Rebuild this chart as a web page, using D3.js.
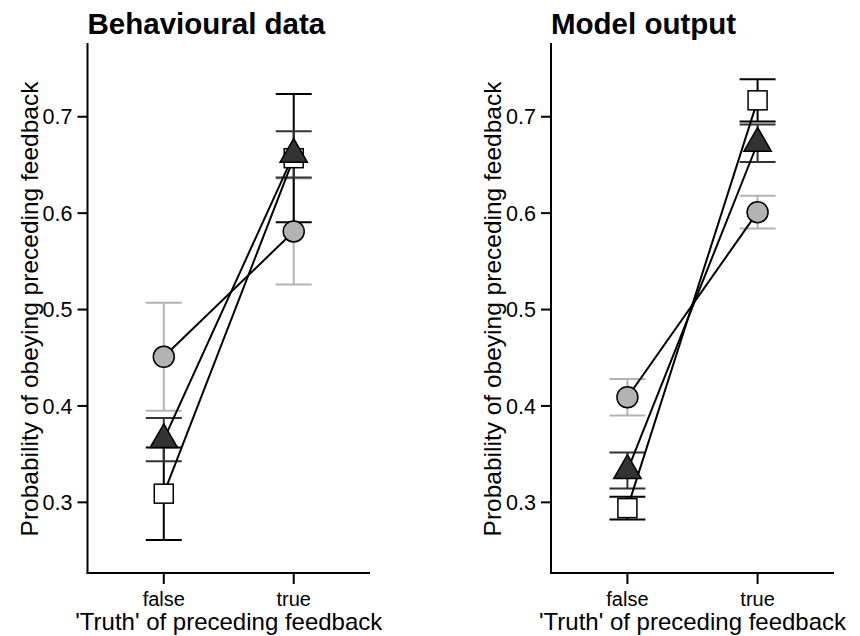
<!DOCTYPE html>
<meta charset="utf-8">
<script src="https://d3js.org/d3.v7.min.js"></script>
<style>
  body { margin: 0; background: #fff; }
  text { font-family: "Liberation Sans", Arial, Helvetica, sans-serif; fill: #000; }
</style>
<body>
<svg width="860" height="636"></svg>
<script>
    // conditions on the x axis
    var conditions = ["false", "true"];
    var yTicks = [0.3, 0.4, 0.5, 0.6, 0.7];

    // behavioural data: means and error-bar half widths
    var behavCircle      = [0.451, 0.581];
    var behavCircleErr   = [0.056, 0.055];
    var behavSquare      = [0.309, 0.657];
    var behavSquareErr   = [0.048, 0.0665];
    var behavTriangle    = [0.365, 0.661];
    var behavTriangleErr = [0.0225, 0.024];

    // model output
    var modelCircle      = [0.409, 0.601];
    var modelCircleErr   = [0.019, 0.017];
    var modelSquare      = [0.294, 0.717];
    var modelSquareErr   = [0.0117, 0.022];
    var modelTriangle    = [0.333, 0.6725];
    var modelTriangleErr = [0.0187, 0.0195];

    var svg = d3.select("svg");

    var y = d3.scaleLinear().domain([0.2267, 0.7765]).range([573, 43]);

    function series(vals, errs, shape) { return {vals: vals, errs: errs, shape: shape}; }

    function drawPanel(x0, x1, title, list) {
        var x = d3.scalePoint().domain(conditions).range([x0, x1]).padding(0.587);
        var g = svg.append("g");

        // title
        g.append("text").attr("x", x0).attr("y", 34)
            .attr("font-size", "29.5px").attr("font-weight", "bold").text(title);

        // axes (L-shaped box)
        g.append("line").attr("x1", x0).attr("x2", x0).attr("y1", 43).attr("y2", 573)
            .attr("stroke", "#000").attr("stroke-width", 2);
        g.append("line").attr("x1", x0 - 1).attr("x2", x1).attr("y1", 573).attr("y2", 573)
            .attr("stroke", "#000").attr("stroke-width", 2);

        // y ticks
        yTicks.forEach(function(t){
            g.append("line").attr("x1", x0 - 10).attr("x2", x0).attr("y1", y(t)).attr("y2", y(t))
                .attr("stroke", "#000").attr("stroke-width", 2);
            g.append("text").attr("x", x0 - 15).attr("y", y(t)).attr("dy", "0.36em")
                .attr("text-anchor", "end").attr("font-size", "21.5px").text(t.toFixed(1));
        });
        // x ticks
        conditions.forEach(function(c){
            g.append("line").attr("x1", x(c)).attr("x2", x(c)).attr("y1", 573).attr("y2", 584)
                .attr("stroke", "#000").attr("stroke-width", 2);
            g.append("text").attr("x", x(c)).attr("y", 606)
                .attr("text-anchor", "middle").attr("font-size", "20px").text(c);
        });

        // axis labels
        g.append("text").attr("x", (x0 + x1) / 2).attr("y", 630)
            .attr("text-anchor", "middle").attr("font-size", "24px")
            .text("'Truth' of preceding feedback");
        g.append("text").attr("transform", "translate(" + (x0 - 50) + ",309) rotate(-90)")
            .attr("text-anchor", "middle").attr("font-size", "24.5px")
            .text("Probability of obeying preceding feedback");

        var barColor = {circle: "#b3b3b3", triangle: "#333333", square: "#000000"};

        // error bars
        list.forEach(function(s){
            conditions.forEach(function(c, i){
                var lo = y(s.vals[i] - s.errs[i]), hi = y(s.vals[i] + s.errs[i]);
                var col = barColor[s.shape];
                g.append("line").attr("x1", x(c)).attr("x2", x(c)).attr("y1", lo).attr("y2", hi)
                    .attr("stroke", col).attr("stroke-width", 2);
                [lo, hi].forEach(function(yy){
                    g.append("line").attr("x1", x(c) - 18).attr("x2", x(c) + 18)
                        .attr("y1", yy).attr("y2", yy).attr("stroke", col).attr("stroke-width", 2);
                });
            });
        });

        // connecting lines
        var line = d3.line().x(function(d){ return x(d.c); }).y(function(d){ return y(d.v); });
        list.forEach(function(s){
            var pts = conditions.map(function(c, i){ return {c: c, v: s.vals[i]}; });
            g.append("path").attr("d", line(pts)).attr("fill", "none")
                .attr("stroke", "#000").attr("stroke-width", 2);
        });

        // markers
        list.forEach(function(s){
            conditions.forEach(function(c, i){
                var cx = x(c), cy = y(s.vals[i]);
                if (s.shape === "circle") {
                    g.append("circle").attr("cx", cx).attr("cy", cy).attr("r", 10.5)
                        .attr("fill", "#b3b3b3").attr("stroke", "#000").attr("stroke-width", 1.5);
                } else if (s.shape === "square") {
                    g.append("rect").attr("x", cx - 9.5).attr("y", cy - 9.5)
                        .attr("width", 19).attr("height", 19)
                        .attr("fill", "#fff").attr("stroke", "#000").attr("stroke-width", 1.5);
                } else {
                    var r = 15.8, h = r * Math.sqrt(3) / 2;
                    var tri = [[cx, cy - r], [cx + h, cy + r / 2], [cx - h, cy + r / 2]];
                    g.append("path").attr("d", "M" + tri.join("L") + "Z")
                        .attr("fill", "#333333").attr("stroke", "#000").attr("stroke-width", 1.5);
                }
            });
        });
    }

    drawPanel(87.5, 370, "Behavioural data", [
        series(behavCircle, behavCircleErr, "circle"),
        series(behavSquare, behavSquareErr, "square"),
        series(behavTriangle, behavTriangleErr, "triangle")
    ]);

    drawPanel(551, 834, "Model output", [
        series(modelCircle, modelCircleErr, "circle"),
        series(modelSquare, modelSquareErr, "square"),
        series(modelTriangle, modelTriangleErr, "triangle")
    ]);
</script>
</body>
